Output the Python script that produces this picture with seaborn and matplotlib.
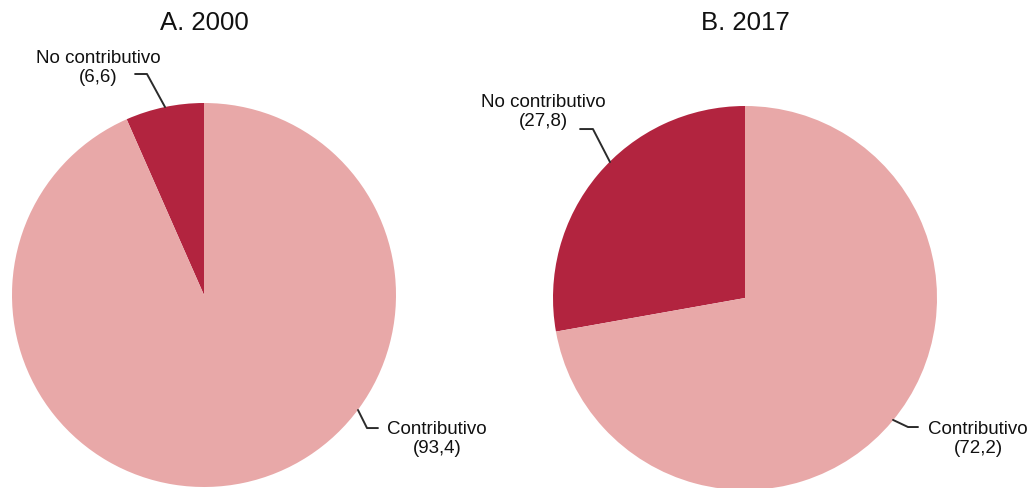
import matplotlib
matplotlib.use("Agg")
import matplotlib.pyplot as plt
import seaborn as sns

# data
categories = ['No contributivo', 'Contributivo']
shares_2000 = [6.6, 93.4]
shares_2017 = [27.8, 72.2]
titles = ['A. 2000', 'B. 2017']
colors = ['#B2243F', '#E8A8A8']

sns.set_theme(style="white")
plt.rcParams['font.family'] = ['Liberation Sans', 'DejaVu Sans']

W, H = 1034, 488
fig = plt.figure(figsize=(W / 100, H / 100), dpi=100)

R = 192  # pie radius in pixels
centers = [(204, 295), (745, 298)]  # pixel centres (from top-left)

# label layout per pie: (text pos, leader polyline) in data units (radius = 1)
layout = [
    {
        'No contributivo': ((-0.552, 1.182), [(-0.359, 1.151), (-0.297, 1.151), (-0.203, 0.979)]),
        'Contributivo': ((1.214, -0.75), [(0.802, -0.599), (0.849, -0.693), (0.906, -0.693)]),
    },
    {
        'No contributivo': ((-1.052, 0.969), [(-0.859, 0.880), (-0.792, 0.880), (-0.703, 0.708)]),
        'Contributivo': ((1.214, -0.734), [(0.771, -0.635), (0.849, -0.672), (0.901, -0.672)]),
    },
]

for i, (vals, title) in enumerate(zip([shares_2000, shares_2017], titles)):
    cx, cy = centers[i]
    ax = fig.add_axes([(cx - R) / W, (H - cy - R) / H, 2 * R / W, 2 * R / H])
    ax.pie(vals, colors=colors, startangle=90, counterclock=True, radius=1,
           wedgeprops=dict(linewidth=0))
    ax.set_xlim(-1, 1)
    ax.set_ylim(-1, 1)
    ax.set_aspect('auto')
    ax.axis('off')

    for cat, v in zip(categories, vals):
        (tx, ty), line = layout[i][cat]
        xs = [p[0] for p in line]
        ys = [p[1] for p in line]
        ax.plot(xs, ys, color='#2b2b2b', lw=1.4, clip_on=False)
        ax.text(tx, ty, f"{cat}\n({v:.1f})".replace('.', ','), ha='center', va='center',
                fontsize=13.5, color='#111111', linespacing=1.18, clip_on=False)

    fig.text(cx / W, 1 - 23 / H, title, ha='center', va='center', fontsize=18.5, color='#111111')

fig.savefig('out.png', dpi=100)
